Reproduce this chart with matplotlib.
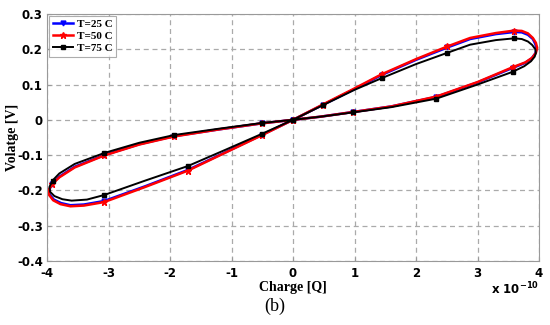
import matplotlib
matplotlib.use("Agg")
import matplotlib.pyplot as plt

# Charge in units of 1e-10 C, voltage in V
q_25 = [0, 0.48, 1.0, 1.44, 2.0, 2.51, 2.88, 3.3, 3.6, 3.72, 3.82, 3.9, 3.94, 3.96, 3.94,
        3.88, 3.77, 3.57, 3.0, 2.33, 1.6, 0.97, 0.45, 0,
        -0.51, -1.2, -1.93, -2.5, -3.07, -3.55, -3.8, -3.92, -3.96, -3.96, -3.89, -3.77,
        -3.62, -3.4, -3.07, -2.4, -1.71, -1.1, -0.51, 0]
v_25 = [0, 0.042, 0.087, 0.127, 0.17, 0.205, 0.229, 0.243, 0.249, 0.248, 0.241, 0.229,
        0.215, 0.202, 0.188, 0.174, 0.161, 0.147, 0.106, 0.065, 0.038, 0.022, 0.009, 0,
        -0.01, -0.027, -0.046, -0.069, -0.1, -0.133, -0.161, -0.181, -0.197, -0.211,
        -0.226, -0.236, -0.242, -0.24, -0.23, -0.188, -0.142, -0.092, -0.043, 0]

q_50 = [0, 0.48, 1.0, 1.44, 2.0, 2.51, 2.88, 3.3, 3.6, 3.72, 3.82, 3.9, 3.95, 3.97, 3.95,
        3.89, 3.78, 3.57, 3.0, 2.33, 1.6, 0.97, 0.45, 0,
        -0.51, -1.2, -1.93, -2.5, -3.07, -3.55, -3.8, -3.92, -3.97, -3.97, -3.9, -3.78,
        -3.62, -3.4, -3.07, -2.4, -1.71, -1.1, -0.51, 0]
v_50 = [0, 0.043, 0.089, 0.129, 0.172, 0.208, 0.232, 0.246, 0.253, 0.252, 0.245, 0.232,
        0.218, 0.204, 0.19, 0.176, 0.163, 0.149, 0.107, 0.066, 0.038, 0.022, 0.009, 0,
        -0.01, -0.027, -0.047, -0.07, -0.101, -0.135, -0.163, -0.183, -0.198, -0.212,
        -0.228, -0.239, -0.245, -0.243, -0.233, -0.19, -0.144, -0.093, -0.044, 0]

q_75 = [0, 0.48, 1.0, 1.44, 2.0, 2.51, 2.88, 3.3, 3.6, 3.72, 3.82, 3.89, 3.94, 3.95, 3.93,
        3.87, 3.76, 3.57, 3.0, 2.33, 1.6, 0.97, 0.45, 0,
        -0.51, -1.2, -1.93, -2.5, -3.07, -3.55, -3.8, -3.91, -3.96, -3.95, -3.88, -3.75,
        -3.6, -3.35, -3.07, -2.4, -1.71, -1.1, -0.51, 0]
v_75 = [0, 0.041, 0.085, 0.118, 0.158, 0.19, 0.213, 0.226, 0.231, 0.229, 0.222, 0.212,
        0.2, 0.19, 0.179, 0.166, 0.152, 0.136, 0.1, 0.06, 0.036, 0.021, 0.009, 0,
        -0.009, -0.025, -0.043, -0.065, -0.094, -0.125, -0.152, -0.172, -0.19, -0.204,
        -0.216, -0.225, -0.229, -0.226, -0.213, -0.172, -0.131, -0.085, -0.04, 0]

marker_idx = [0, 1, 3, 5, 8, 17, 19, 21, 23, 24, 26, 28, 31, 38, 40, 42]

x_ticks = [-4, -3, -2, -1, 0, 1, 2, 3, 4]
y_ticks = [-0.4, -0.3, -0.2, -0.1, 0, 0.1, 0.2, 0.3]
y_labels = ["-0.4", "-0.3", "-0.2", "-0.1", "0", "0.1", "0.2", "0.3"]

fig = plt.figure(figsize=(5.5, 3.25), dpi=100)
ax = fig.add_axes([0.0855, 0.197, 0.8945, 0.76])

ax.plot(q_25, v_25, color="blue", lw=1.8, marker="v", ms=3.5, markevery=marker_idx,
        solid_joinstyle="round", label="T=25 C")
ax.plot(q_50, v_50, color="red", lw=1.8, marker="*", ms=4.5, markevery=marker_idx,
        solid_joinstyle="round", label="T=50 C")
ax.plot(q_75, v_75, color="black", lw=1.4, marker="s", ms=3.2, markevery=marker_idx,
        solid_joinstyle="round", label="T=75 C")

ax.set_xlim(-4, 4)
ax.set_ylim(-0.4, 0.3)
ax.set_xticks(x_ticks)
ax.set_xticklabels([str(t) for t in x_ticks])
ax.set_yticks(y_ticks)
ax.set_yticklabels(y_labels)
ax.tick_params(direction="in", length=3, color="#999999", labelsize=8.5)
ax.tick_params(axis="x", pad=4)
ax.tick_params(axis="y", pad=3)
for lab in ax.get_xticklabels() + ax.get_yticklabels():
    lab.set_fontweight("bold")
for sp in ax.spines.values():
    sp.set_color("#999999")

ax.grid(True, color="#aaaaaa", linestyle=(0, (4, 3)), linewidth=0.9)

ax.set_xlabel("Charge [Q]", family="Liberation Serif", fontweight="bold",
              fontsize=10, labelpad=1)
ax.set_ylabel("Volatge [V]", family="Liberation Serif", fontweight="bold",
              fontsize=10)
ax.yaxis.set_label_coords(-0.056, 0.5)

leg = ax.legend(loc="upper left", prop={"family": "Liberation Serif", "weight": "bold",
                                        "size": 8},
                frameon=True, fancybox=False, borderaxespad=0.2, handlelength=1.8,
                labelspacing=0.2, borderpad=0.3, handletextpad=0.4)
leg.get_frame().set_edgecolor("#999999")
leg.get_frame().set_linewidth(0.8)

fig.text(0.98, 0.11, r"x 10$^{\mathbf{-10}}$", ha="right", va="center",
         fontsize=8.5, fontweight="bold")
fig.text(0.5, 0.058, "(b)", ha="center", va="center", family="Liberation Serif",
         fontsize=13)

fig.savefig("out.png", dpi=100)
